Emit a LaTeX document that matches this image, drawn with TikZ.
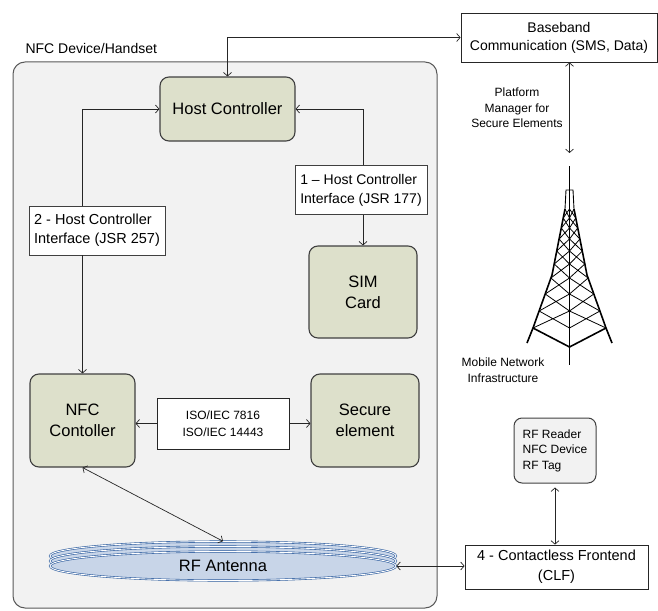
\documentclass[tikz,border=0pt]{standalone}
\usepackage{fontspec}
\setmainfont{Liberation Sans}
\usetikzlibrary{arrows.meta,shapes.geometric,calc}
\definecolor{boxgreen}{HTML}{DDE0CB}
\definecolor{devgray}{HTML}{F2F2F2}
\definecolor{antfill}{HTML}{C8D5E8}
\definecolor{antline}{HTML}{2E5D9F}
\definecolor{edge}{HTML}{404040}

\begin{document}
\begin{tikzpicture}[x=1pt,y=-1pt,
  >={Straight Barb[length=3.5pt,width=8pt]},
  conn/.style={draw=black!85,line width=0.7pt},
  unit/.style={draw=edge,fill=boxgreen,line width=1.1pt,rounded corners=9pt,align=center,inner sep=2pt},
  tag/.style={draw=edge,fill=white,line width=0.8pt,align=left,inner sep=3pt},
  plain/.style={draw=black!85,fill=white,line width=0.8pt,align=center,inner sep=3pt},
  antring/.style={ellipse,draw=antline,double=white,double distance=0.9pt,line width=0.6pt,fill=antfill,minimum width=346pt,minimum height=29pt,inner sep=0pt},
  big/.style={font=\fontsize{16.5}{21}\selectfont},
  mid/.style={font=\fontsize{14}{18}\selectfont},
  small/.style={font=\fontsize{12}{15.5}\selectfont},
  leg/.style={line width=1.6pt,line join=round},
  lattice/.style={line width=0.8pt}
]
\useasboundingbox (0,0) rectangle (658,610);

% handset outline
\draw[draw=black!65,fill=devgray,line width=1pt,rounded corners=12pt] (13,62) rectangle (437,608);
\node[mid,anchor=west] (devlabel) at (22,48) {NFC Device/Handset};

% functional blocks
\node[unit,big,minimum width=135pt,minimum height=64pt] (hc) at (227.5,109) {Host Controller};
\node[unit,big,minimum width=108pt,minimum height=92pt] (sim) at (363,292) {SIM\\Card};
\node[unit,big,minimum width=105pt,minimum height=93pt] (nfc) at (82.5,420.5) {NFC\\Contoller};
\node[unit,big,minimum width=108pt,minimum height=93pt] (se) at (365,420.5) {Secure\\element};

% interface labels
\node[tag,font=\fontsize{14}{19}\selectfont,minimum width=132pt,minimum height=49pt] (if1) at (361,190) {1 – Host Controller\\Interface (JSR 177)};
\node[tag,font=\fontsize{14.5}{19}\selectfont,minimum width=136pt,minimum height=49pt] (if2) at (97,230.5) {2 - Host Controller\\Interface (JSR 257)};
\node[plain,font=\fontsize{12}{17}\selectfont,minimum width=132pt,minimum height=51pt] (iso) at (223,423.5) {ISO/IEC 7816\\ISO/IEC 14443};

% external blocks
\node[plain,mid,minimum width=196pt,minimum height=49pt] (bb) at (559,37.5) {Baseband\\Communication (SMS, Data)};
\node[plain,font=\fontsize{14.5}{20}\selectfont,minimum width=183pt,minimum height=44pt] (clf) at (556.5,567) {4 - Contactless Frontend\\(CLF)};
\node[draw=edge,fill=devgray,line width=1pt,rounded corners=8pt,small,align=left,minimum width=82pt,minimum height=65pt,inner sep=3pt] (rf) at (555,450.5) {RF Reader\\NFC Device\\RF Tag};

\node[small,align=center] (pm) at (517,108) {Platform\\Manager for\\Secure Elements};
\node[small,align=center] (mni) at (503,370) {Mobile Network\\Infrastructure};

% antenna coil
\node[antring] (ant1) at (223,556) {};
\node[antring] (ant2) at (223,561) {};
\node[antring,big] (ant) at (223,566) {RF Antenna};

% transmission tower
\coordinate (towertop) at (569.5,153);
\draw[leg] (569.5,166) -- (569.5,365);
\draw[line width=0.9pt] (565,209) -- (566,190) -- (573,190) -- (574,209);
\draw[leg] (565,209) -- (552,275) -- (533,328) -- (527,343);
\draw[leg] (574,209) -- (587,275) -- (606,328) -- (612,343);
\draw[leg] (533,328) -- (569.5,347) -- (606,328);
\foreach \ya/\xa/\yb/\xb in {209/565/218/563.2, 218/563.2/228/561.3, 228/561.3/239/559.1,
    239/559.1/251/556.7, 251/556.7/264/554.2, 264/554.2/278/550.9, 278/550.9/294/545.2,
    294/545.2/311/539.1, 311/539.1/328/533} {
  \draw[lattice] (\xa,\ya) -- (569.5,\yb) (569.5,\ya) -- (\xb,\yb);
  \draw[lattice] ({1139-\xa},\ya) -- (569.5,\yb) (569.5,\ya) -- ({1139-\xb},\yb);
}

% connectors
\draw[conn,<->] (hc.north) |- (bb.west);
\draw[conn,<->] (bb.south -| towertop) -- (towertop);
\draw[conn,->] (sim.north |- if1.north) |- (hc.east);
\draw[conn,->] (sim.north |- if1.south) -- (sim.north);
\draw[conn,->] (nfc.north |- if2.north) |- (hc.west);
\draw[conn,->] (nfc.north |- if2.south) -- (nfc.north);
\draw[conn,->] (iso.west) -- (nfc.east |- iso.west);
\draw[conn,->] (iso.east) -- (se.west |- iso.east);
\draw[conn,<->] (nfc.south) -- (ant1.north);
\draw[conn,<->] (ant.east) -- (clf.west |- ant.east);
\draw[conn,<->] ([yshift=-4pt]rf.south) -- (rf.south |- clf.north);
\end{tikzpicture}
\end{document}
